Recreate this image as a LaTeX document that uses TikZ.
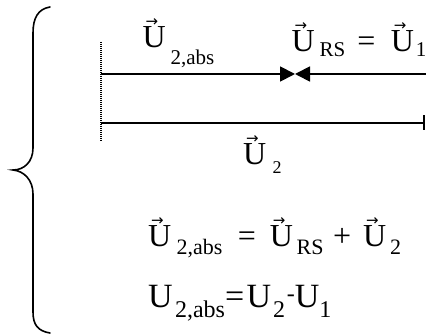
\documentclass[tikz,border=0pt]{standalone}
\usepackage{fontspec}
\setmainfont{Liberation Serif}
\newfontfamily\arrowfam{DejaVu Sans}
\usetikzlibrary{arrows.meta}
\newcommand{\vU}{\leavevmode\rlap{\hspace{3pt}\raisebox{21pt}{\arrowfam\fontsize{15}{15}\selectfont →}}U}
\newcommand{\bigf}{\fontsize{32}{38}\selectfont}
\newcommand{\subf}{\fontsize{21}{25}\selectfont}
\newcommand{\subg}{\fontsize{22}{26}\selectfont}
\tikzset{
  lbl/.style={anchor=base west, inner sep=0pt, outer sep=0pt, font=\bigf},
  vline/.style={line width=1.8pt},
  brace/.style={line width=1.6pt, line cap=round},
  dots/.style={line width=1.2pt, dash pattern=on 1pt off 1pt},
  tri/.style={-{Triangle[length=15pt,width=15pt]}}
}
\begin{document}
\begin{tikzpicture}[x=1pt,y=-1pt]
\useasboundingbox (0,0) rectangle (426,336);
% brace
\draw[brace] (50,7) .. controls (38,9) and (33,18) .. (33,33) -- (33,148)
  .. controls (33,162) and (24,170) .. (13,170)
  .. controls (24,171) and (33,180) .. (33,194) -- (33,312)
  .. controls (33,325) and (38,331) .. (50,333);
% dotted guide
\coordinate (d1) at (101,42);
\coordinate (d2) at (101,141);
\draw[dots] (d1) -- (d2);
% line 1 with opposing arrows
\coordinate (l1s) at (101,74);
\coordinate (m) at (295,74);
\coordinate (l1e) at (427,74);
\draw[vline,tri] (l1s) -- (m);
\draw[vline,tri] (l1e) -- (m);
% line 2
\coordinate (l2s) at (101,123);
\coordinate (l2e) at (425,123);
\draw[vline,-{Bar[width=15pt]}] (l2s) -- (l2e);
% labels
\node[lbl] (t1) at (142.5,48) {\vU\hspace{5pt}\raisebox{-17pt}{\subf 2,abs}};
\node[lbl] (t2) at (291.5,51.5) {\vU\hspace{5pt}\raisebox{-5pt}{\subf RS}\hspace{12pt}=\hspace{15.5pt}\vU\hspace{2pt}\raisebox{-5pt}{\subf 1}};
\node[lbl] (t3) at (243,165) {\vU\hspace{6.5pt}\raisebox{-8.3pt}{\fontsize{18}{22}\selectfont 2}};
\node[lbl] (t4) at (148,246.7) {\vU\hspace{5.5pt}\raisebox{-8.3pt}{\subg 2,abs}\hspace{15.5pt}=\hspace{14pt}\vU\hspace{3.6pt}\raisebox{-8.3pt}{\subg RS}\hspace{9.4pt}+\hspace{12pt}\vU\hspace{4pt}\raisebox{-8.3pt}{\subg 2}};
\node[lbl, font=\fontsize{34}{40}\selectfont] (t5) at (148,308) {U\hspace{2.5pt}\raisebox{-10pt}{\fontsize{24}{28}\selectfont 2,abs}=\hspace{2.5pt}U\hspace{1.8pt}\raisebox{-10pt}{\fontsize{24}{28}\selectfont 2}\hspace{1.7pt}\raisebox{6pt}{\fontsize{24}{28}\selectfont -}U\raisebox{-10pt}{\fontsize{24}{28}\selectfont 1}};
\end{tikzpicture}
\end{document}
